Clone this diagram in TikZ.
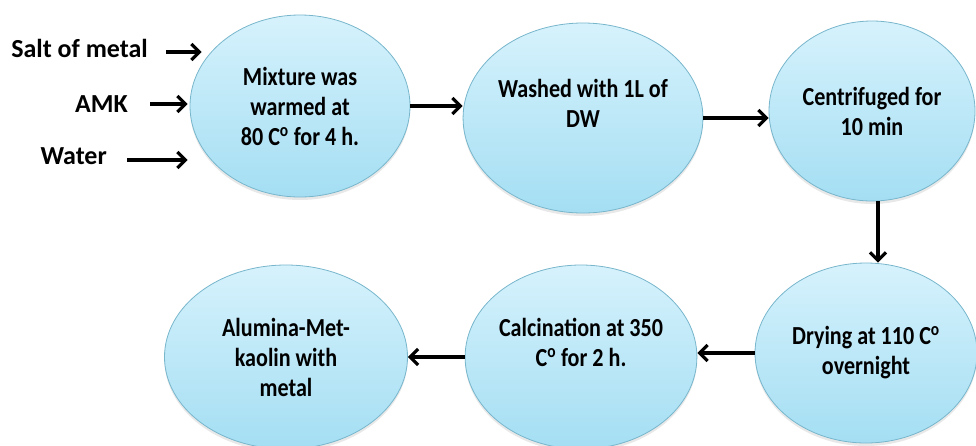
\documentclass[tikz,border=0pt]{standalone}
\usepackage{fontspec}
\setmainfont{Carlito}
\newfontfamily\narrowfont{Carlito}[FakeStretch=0.85]
\definecolor{BallTop}{HTML}{D6F2FC}
\definecolor{BallBottom}{HTML}{A4DEF3}
\definecolor{BallEdge}{HTML}{78B6CC}
\usetikzlibrary{arrows.meta,positioning,shapes.geometric,shadows}

\tikzset{
  stage/.style={
    ellipse,
    draw=BallEdge,
    line width=0.8pt,
    top color=BallTop,
    bottom color=BallBottom,
    drop shadow={opacity=0.18,shadow xshift=0pt,shadow yshift=-3pt},
    align=center,
    inner sep=0pt,
    font=\narrowfont\fontsize{26}{30}\selectfont\bfseries
  },
  inlabel/.style={
    inner sep=0pt,
    font=\fontsize{26}{30}\selectfont\bfseries
  },
  flow/.style={
    line width=3.2pt,
    -{Straight Barb[length=8pt,width=16pt]}
  }
}

\begin{document}
\begin{tikzpicture}[x=1pt,y=-1pt]
    \useasboundingbox (0,0) rectangle (976,445);

    % process stages
    \node[stage, minimum width=220pt, minimum height=182pt] (mix) at (300,106)
      {Mixture was\\warmed at\\80 C\textsuperscript{o} for 4 h.};
    \node[stage, minimum width=206pt, minimum height=190pt] (wash) at (583,118)
      {Washed with 1L of\\DW\\\mbox{}};
    \node[stage, minimum width=206pt, minimum height=180pt] (cent) at (872,111)
      {Centrifuged for\\10 min};
    \node[stage, minimum width=222pt, minimum height=180pt] (dry) at (866,353)
      {Drying at 110 C\textsuperscript{o}\\overnight};
    \node[stage, minimum width=227pt, minimum height=184pt] (calc) at (581,357)
      {Calcination at 350\\C\textsuperscript{o} for 2 h.\\\mbox{}};
    \node[stage, minimum width=243pt, minimum height=184pt] (alum) at (286,357)
      {Alumina-Met-\\kaolin with\\metal};

    % inputs
    \node[inlabel, anchor=east] (salt) at (148,48) {Salt of metal};
    \node[inlabel, anchor=east] (amk) at (128,104) {AMK};
    \node[inlabel, anchor=east] (water) at (107,156) {Water};

    \draw[flow] ([xshift=18pt,yshift=-4pt]salt.east) -- ([xshift=12pt,yshift=-4pt]mix.west |- salt.east);
    \draw[flow] ([xshift=22pt]amk.east) -- ([xshift=-2pt]mix.west |- amk.east);
    \draw[flow] ([xshift=20pt,yshift=-4pt]water.east) -- ([xshift=-2pt,yshift=-4pt]mix.west |- water.east);

    % sequence
    \draw[flow] (mix.east) -- (wash.west |- mix.east);
    \draw[flow] (wash.east) -- (cent.west |- wash.east);
    \draw[flow] ([xshift=6pt]cent.south) -- ([xshift=6pt]cent.south |- dry.north);
    \draw[flow] (dry.west) -- (calc.east |- dry.west);
    \draw[flow] (calc.west) -- (alum.east |- calc.west);
\end{tikzpicture}
\end{document}
